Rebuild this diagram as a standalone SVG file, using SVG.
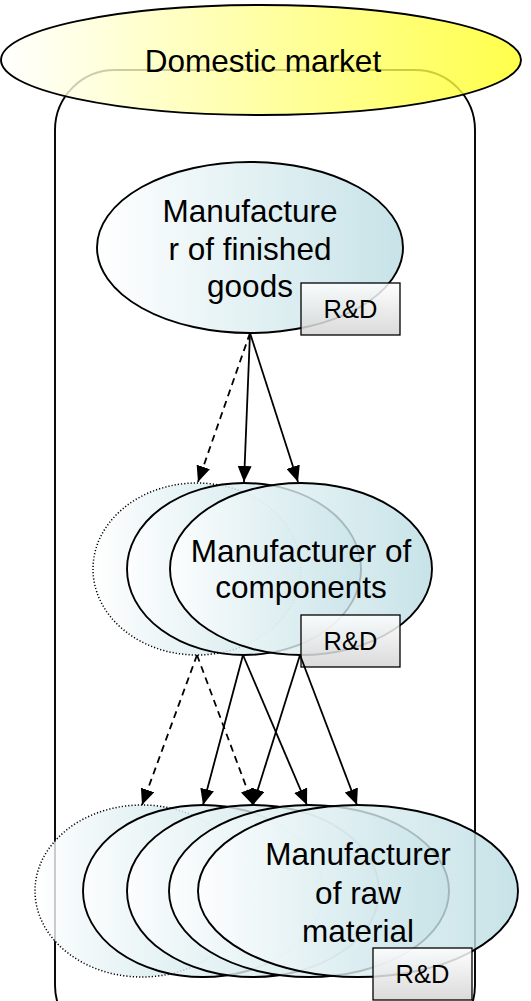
<svg xmlns="http://www.w3.org/2000/svg" width="531" height="1001" viewBox="0 0 531 1001">
<style>
.t{font-family:"Liberation Sans",Arial,sans-serif;font-size:31.5px;fill:#000;text-anchor:middle}
.rd{font-family:"Liberation Sans",Arial,sans-serif;font-size:25.5px;fill:#000;text-anchor:middle}
.node{fill:url(#teal);fill-opacity:0.8;stroke:#000;stroke-width:1.9}
.dot{fill:url(#teal);fill-opacity:0.8;stroke:#000;stroke-width:1.5;stroke-dasharray:1.2 2}
.box{fill:url(#gray);fill-opacity:0.85;stroke:#000;stroke-width:1.3}
.a{fill:none;stroke:#000;stroke-width:1.8;marker-end:url(#ah)}
.d{stroke-dasharray:7 5}
</style>
<defs>
<linearGradient id="teal" x1="0" y1="0" x2="1" y2="0">
<stop offset="0" stop-color="#ffffff"/>
<stop offset="1" stop-color="#b9dce2"/>
</linearGradient>
<linearGradient id="yel" x1="0" y1="0" x2="1" y2="0">
<stop offset="0" stop-color="#ffffff"/>
<stop offset="1" stop-color="#ffff1e"/>
</linearGradient>
<linearGradient id="gray" x1="0" y1="0" x2="0" y2="1">
<stop offset="0" stop-color="#ffffff"/>
<stop offset="1" stop-color="#d4d4d4"/>
</linearGradient>
<marker id="ah" markerUnits="userSpaceOnUse" markerWidth="16" markerHeight="14" refX="16" refY="7" orient="auto">
<path d="M0,0 L16,7 L0,14 z" fill="#000"/>
</marker>
</defs>

<g id="container">
<rect x="55" y="70" width="420" height="975" rx="60" ry="60" fill="none" stroke="#000" stroke-width="1.9"/>
</g>

<g id="domestic-market">
<ellipse cx="261" cy="60" rx="260" ry="55" fill="url(#yel)" fill-opacity="0.8" stroke="#000" stroke-width="1.9"/>
<text class="t" x="263" y="72">Domestic market</text>
</g>

<g id="finished-goods">
<ellipse class="node" cx="250" cy="247.5" rx="153" ry="85.5"/>
<text class="t" x="250" y="222">Manufacture</text>
<text class="t" x="250" y="260">r of finished</text>
<text class="t" x="250" y="297">goods</text>
</g>
<g id="rd-finished">
<rect class="box" x="301" y="283" width="99" height="52"/>
<text class="rd" x="350.5" y="318">R&amp;D</text>
</g>

<g id="components">
<ellipse class="dot" cx="197" cy="569" rx="104" ry="86"/>
<ellipse class="node" cx="244" cy="569" rx="117" ry="86"/>
<ellipse class="node" cx="301" cy="569" rx="131" ry="86"/>
<text class="t" x="301" y="562">Manufacturer of</text>
<text class="t" x="301" y="598">components</text>
</g>
<g id="rd-components">
<rect class="box" x="301" y="615" width="99" height="52"/>
<text class="rd" x="350.5" y="650">R&amp;D</text>
</g>

<g id="raw-material">
<ellipse class="dot" cx="142" cy="891" rx="107" ry="86"/>
<ellipse class="node" cx="203" cy="891" rx="120" ry="86"/>
<ellipse class="node" cx="253" cy="891" rx="126" ry="86"/>
<ellipse class="node" cx="309" cy="891" rx="140" ry="86"/>
<ellipse class="node" cx="358" cy="891" rx="160" ry="86"/>
<text class="t" x="358" y="865">Manufacturer</text>
<text class="t" x="358" y="904">of raw</text>
<text class="t" x="358" y="942">material</text>
</g>
<g id="rd-raw">
<rect class="box" x="373" y="948" width="99" height="52"/>
<text class="rd" x="422.5" y="983">R&amp;D</text>
</g>

<g id="connectors">
<path class="a d" d="M250,333 L198,482"/>
<path class="a" d="M250,333 L244,482"/>
<path class="a" d="M250,333 L298,482"/>
<path class="a d" d="M197,655 L142,805"/>
<path class="a d" d="M197,655 L253,805"/>
<path class="a" d="M243,655 L203,805"/>
<path class="a" d="M243,655 L307,805"/>
<path class="a" d="M300,655 L253,805"/>
<path class="a" d="M300,655 L357,805"/>
</g>
</svg>
